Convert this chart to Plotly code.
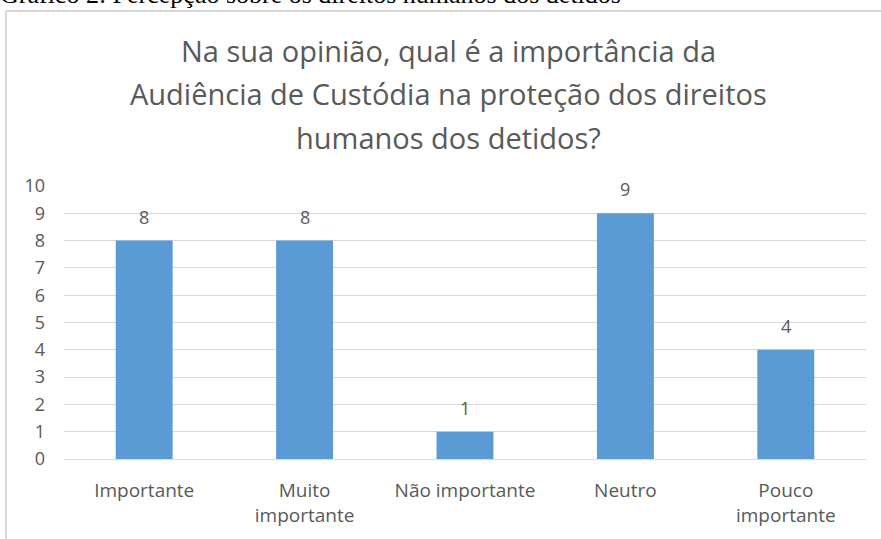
import plotly.graph_objects as go

# data
categories = ["Importante", "Muito importante", "Não importante", "Neutro", "Pouco importante"]
tick_labels = ["Importante", "Muito<br>importante", "Não importante", "Neutro", "Pouco<br>importante"]
counts = [8, 8, 1, 9, 4]

caption = "Gráfico 2: Percepção sobre os direitos humanos dos detidos"
title_lines = [
    "Na sua opinião, qual é a importância da",
    "Audiência de Custódia na proteção dos direitos",
    "humanos dos detidos?",
]

GREY = "#595959"
GRID = "#D9D9D9"
BAR = "#5B9BD5"
FONT = "Open Sans"

W, H = 881, 539
L, R, T, B = 64, 15, 186, 80
PW, PH = W - L - R, H - T - B


def px_x(px):
    return (px - L) / PW


def px_y(py):
    return (H - B - py) / PH


fig = go.Figure()
fig.add_trace(go.Bar(
    x=categories, y=counts,
    marker=dict(color=BAR, line=dict(width=0)),
    hoverinfo="x+y",
))

# value labels above the bars
for cat, val in zip(categories, counts):
    fig.add_annotation(x=cat, y=val, text=str(val), showarrow=False,
                       yanchor="middle", yshift=24,
                       font=dict(family=FONT, size=18, color=GREY))

# chart title, one line per annotation to get Excel-like spacing
for i, line in enumerate(title_lines):
    fig.add_annotation(xref="paper", yref="paper", x=px_x(448), y=px_y(50 + i * 43.5),
                       text=line, showarrow=False, xanchor="center", yanchor="middle",
                       font=dict(family=FONT, size=29, color=GREY))

# document caption, cut off at the top of the image
fig.add_annotation(xref="paper", yref="paper", x=px_x(-2), y=px_y(-6),
                   text=caption, showarrow=False, xanchor="left", yanchor="middle",
                   font=dict(family="Liberation Serif", size=26, color="black"))

# chart frame (only top and left edges are visible)
fig.add_shape(type="line", xref="paper", yref="paper",
              x0=px_x(6), x1=px_x(W + 5), y0=px_y(11), y1=px_y(11),
              line=dict(color=GRID, width=2))
fig.add_shape(type="line", xref="paper", yref="paper",
              x0=px_x(6), x1=px_x(6), y0=px_y(11), y1=px_y(H + 5),
              line=dict(color=GRID, width=2))

fig.update_layout(
    width=W, height=H,
    margin=dict(l=L, r=R, t=T, b=B),
    bargap=0.645,
    showlegend=False,
    plot_bgcolor="white",
    paper_bgcolor="white",
    font=dict(family=FONT, size=18, color=GREY),
)
fig.update_xaxes(
    tickmode="array", tickvals=categories, ticktext=tick_labels,
    showgrid=False, showline=False, ticks="", ticklabelstandoff=18,
    tickfont=dict(family=FONT, size=19, color=GREY),
)
fig.update_yaxes(
    range=[0, 10], dtick=1, showgrid=True, gridcolor=GRID, gridwidth=1,
    zeroline=True, zerolinecolor=GRID, zerolinewidth=1,
    showline=False, ticks="", ticklabelstandoff=18,
    tickfont=dict(family=FONT, size=18, color=GREY),
)

# the page body has an 8px default margin; drop it so the figure sits at 0,0
fig.write_html("out.html", config={"displayModeBar": False},
               post_script="document.body.style.margin='0';")
